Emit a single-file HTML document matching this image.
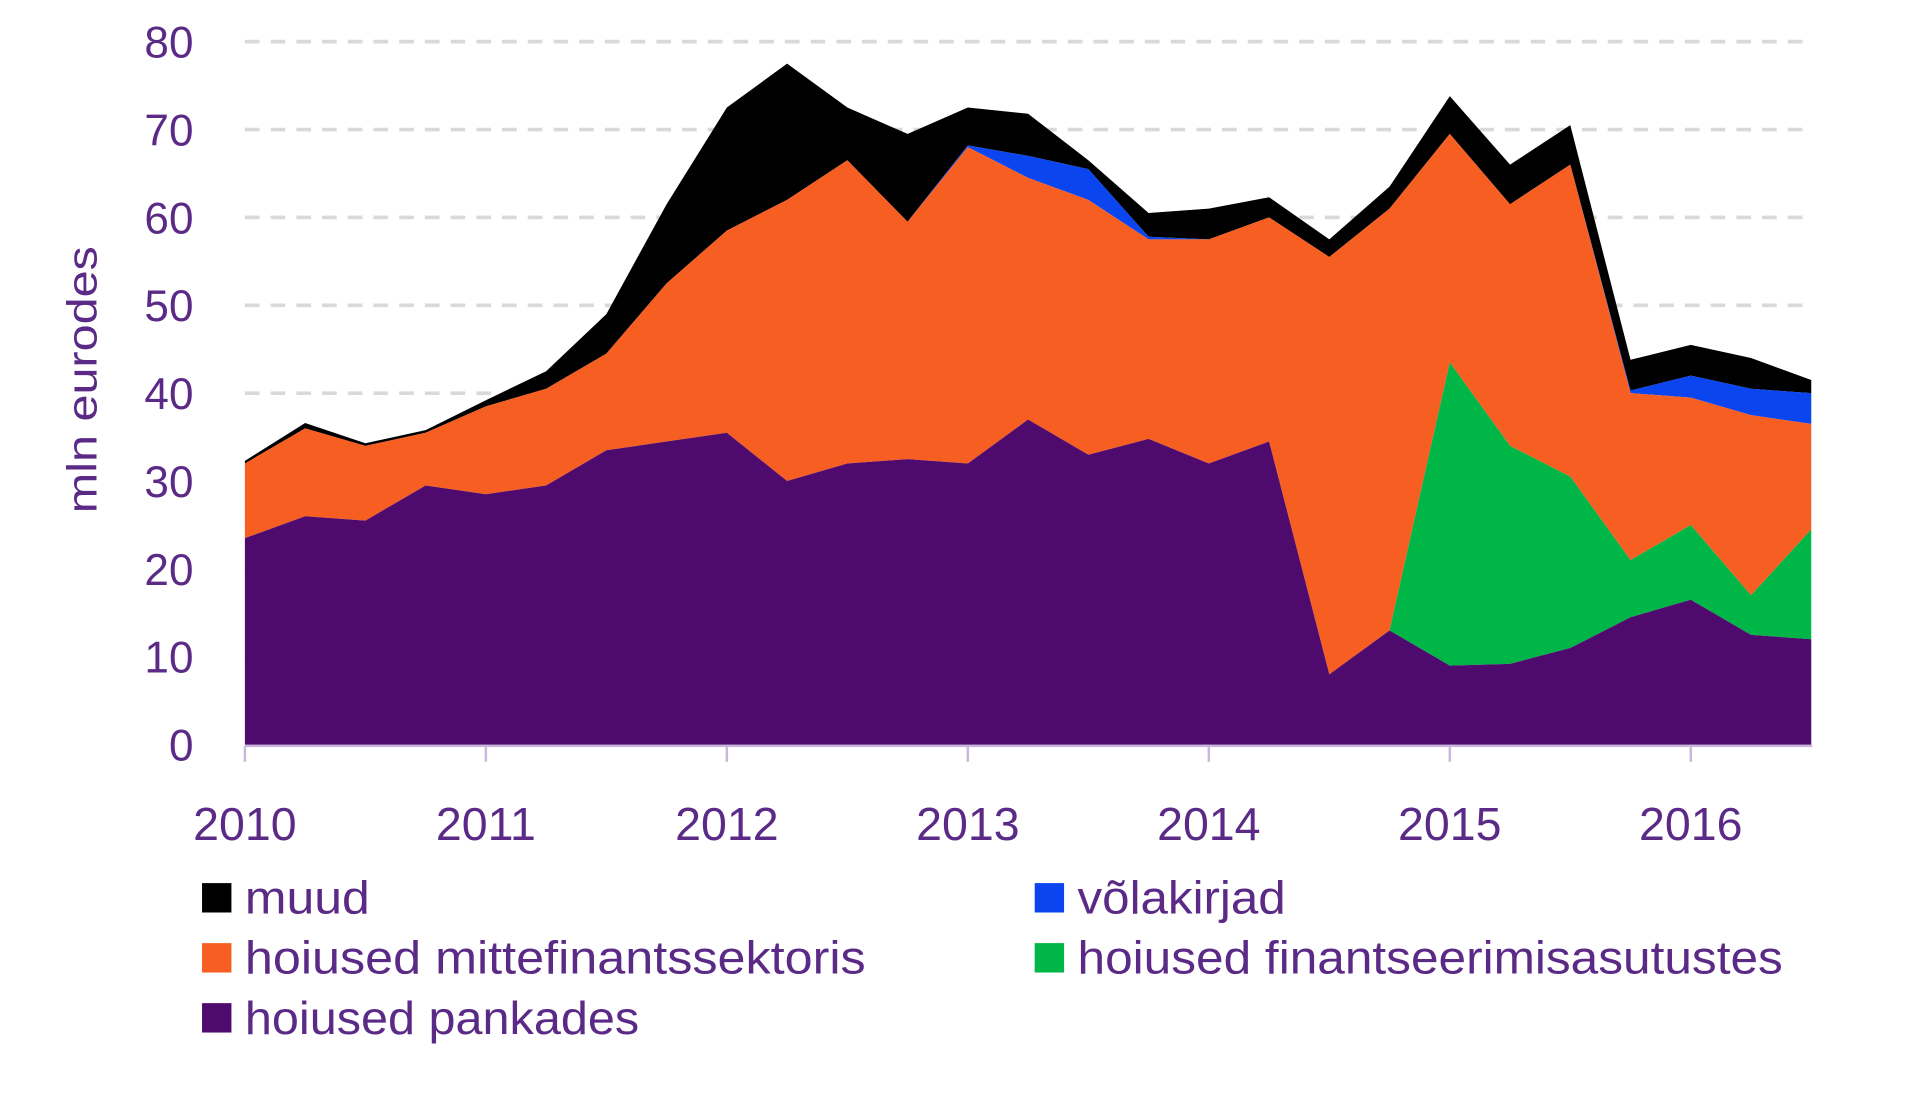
<!DOCTYPE html>
<html><head><meta charset="utf-8"><style>
html,body{margin:0;padding:0;background:#fff;}
svg{display:block;}
text{font-family:"Liberation Sans",sans-serif;fill:#5b2a86;}
</style></head><body>
<svg id="s" width="1920" height="1095" viewBox="0 0 1568 894" preserveAspectRatio="none" xmlns="http://www.w3.org/2000/svg"></svg>
<script>
var P=[23.5,26,25.5,29.5,28.5,29.5,33.5,34.5,35.5,30,32,32.5,32,37,33,34.8,32,34.5,8,13,9,9.2,11,14.5,16.5,12.5,12];
var G=[23.5,26,25.5,29.5,28.5,29.5,33.5,34.5,35.5,30,32,32.5,32,37,33,34.8,32,34.5,8,13,43.5,34,30.5,21,25,17,24.5];
var O=[32,36,34,35.5,38.5,40.5,44.5,52.5,58.5,62,66.5,59.5,68,64.5,62,57.5,57.5,60,55.5,61,69.5,61.5,66,40,39.5,37.5,36.5];
var B=O.slice();B[12]=68.2;B[13]=67;B[14]=65.5;B[15]=57.8;B[23]=40.3;B[24]=42;B[25]=40.5;B[26]=40;
var K=[32.3,36.6,34.3,35.8,39.2,42.5,49,61.5,72.5,77.5,72.5,69.5,72.5,71.8,66.5,60.5,61,62.3,57.5,63.5,73.8,66,70.5,43.8,45.5,44,41.5];
function X(i){return 200+i*49.2;}function Y(v){return 608-v*7.175;}
var h='';
for(var v=10;v<=80;v+=10)h+='<line x1="200" x2="1480" y1="'+Y(v)+'" y2="'+Y(v)+'" stroke="#d9d9d9" stroke-width="3" stroke-dasharray="12,9"/>';
function area(top,bot,c){var p='';for(var i=0;i<top.length;i++)p+=X(i)+','+Y(top[i])+' ';for(var i=bot.length-1;i>=0;i--)p+=X(i)+','+(bot?Y(bot[i]):608)+' ';return '<polygon points="'+p+'" fill="'+c+'"/>';}
var Z=P.map(function(){return 0;});
h+=area(K,B,'#000');h+=area(B,O,'#0a45f0');h+=area(O,G,'#f75f22');h+=area(G,P,'#00b646');h+=area(P,Z,'#4f0a6e');
h+='<line x1="200" x2="1480" y1="609" y2="609" stroke="#c9b8dc" stroke-width="2"/>';
for(var y=0;y<7;y++){var x=200+y*196.8;h+='<line x1="'+x+'" x2="'+x+'" y1="609" y2="622" stroke="#c9b8dc" stroke-width="2"/>';h+='<text x="'+x+'" y="686" font-size="38" text-anchor="middle">'+(2010+y)+'</text>';}
for(var v=0;v<=80;v+=10)h+='<text x="158" y="'+(Y(v)+13)+'" font-size="36" text-anchor="end">'+v+'</text>';
h+='<text transform="translate(79,310) rotate(-90)" font-size="34" text-anchor="middle" textLength="218" lengthAdjust="spacingAndGlyphs">mln eurodes</text>';
var L=[[165,733,'#000','muud',102],[845,733,'#0a45f0','võlakirjad',170],[165,782,'#f75f22','hoiused mittefinantssektoris',507],[845,782,'#00b646','hoiused finantseerimisasutustes',576],[165,831,'#4f0a6e','hoiused pankades',322]];
L.forEach(function(l){h+='<rect x="'+l[0]+'" y="'+(l[1]-12)+'" width="24" height="24" fill="'+l[2]+'"/><text x="'+(l[0]+35)+'" y="'+(l[1]+13)+'" font-size="38" textLength="'+l[4]+'" lengthAdjust="spacingAndGlyphs">'+l[3]+'</text>';});
document.getElementById('s').innerHTML=h;
</script>
</body></html>
